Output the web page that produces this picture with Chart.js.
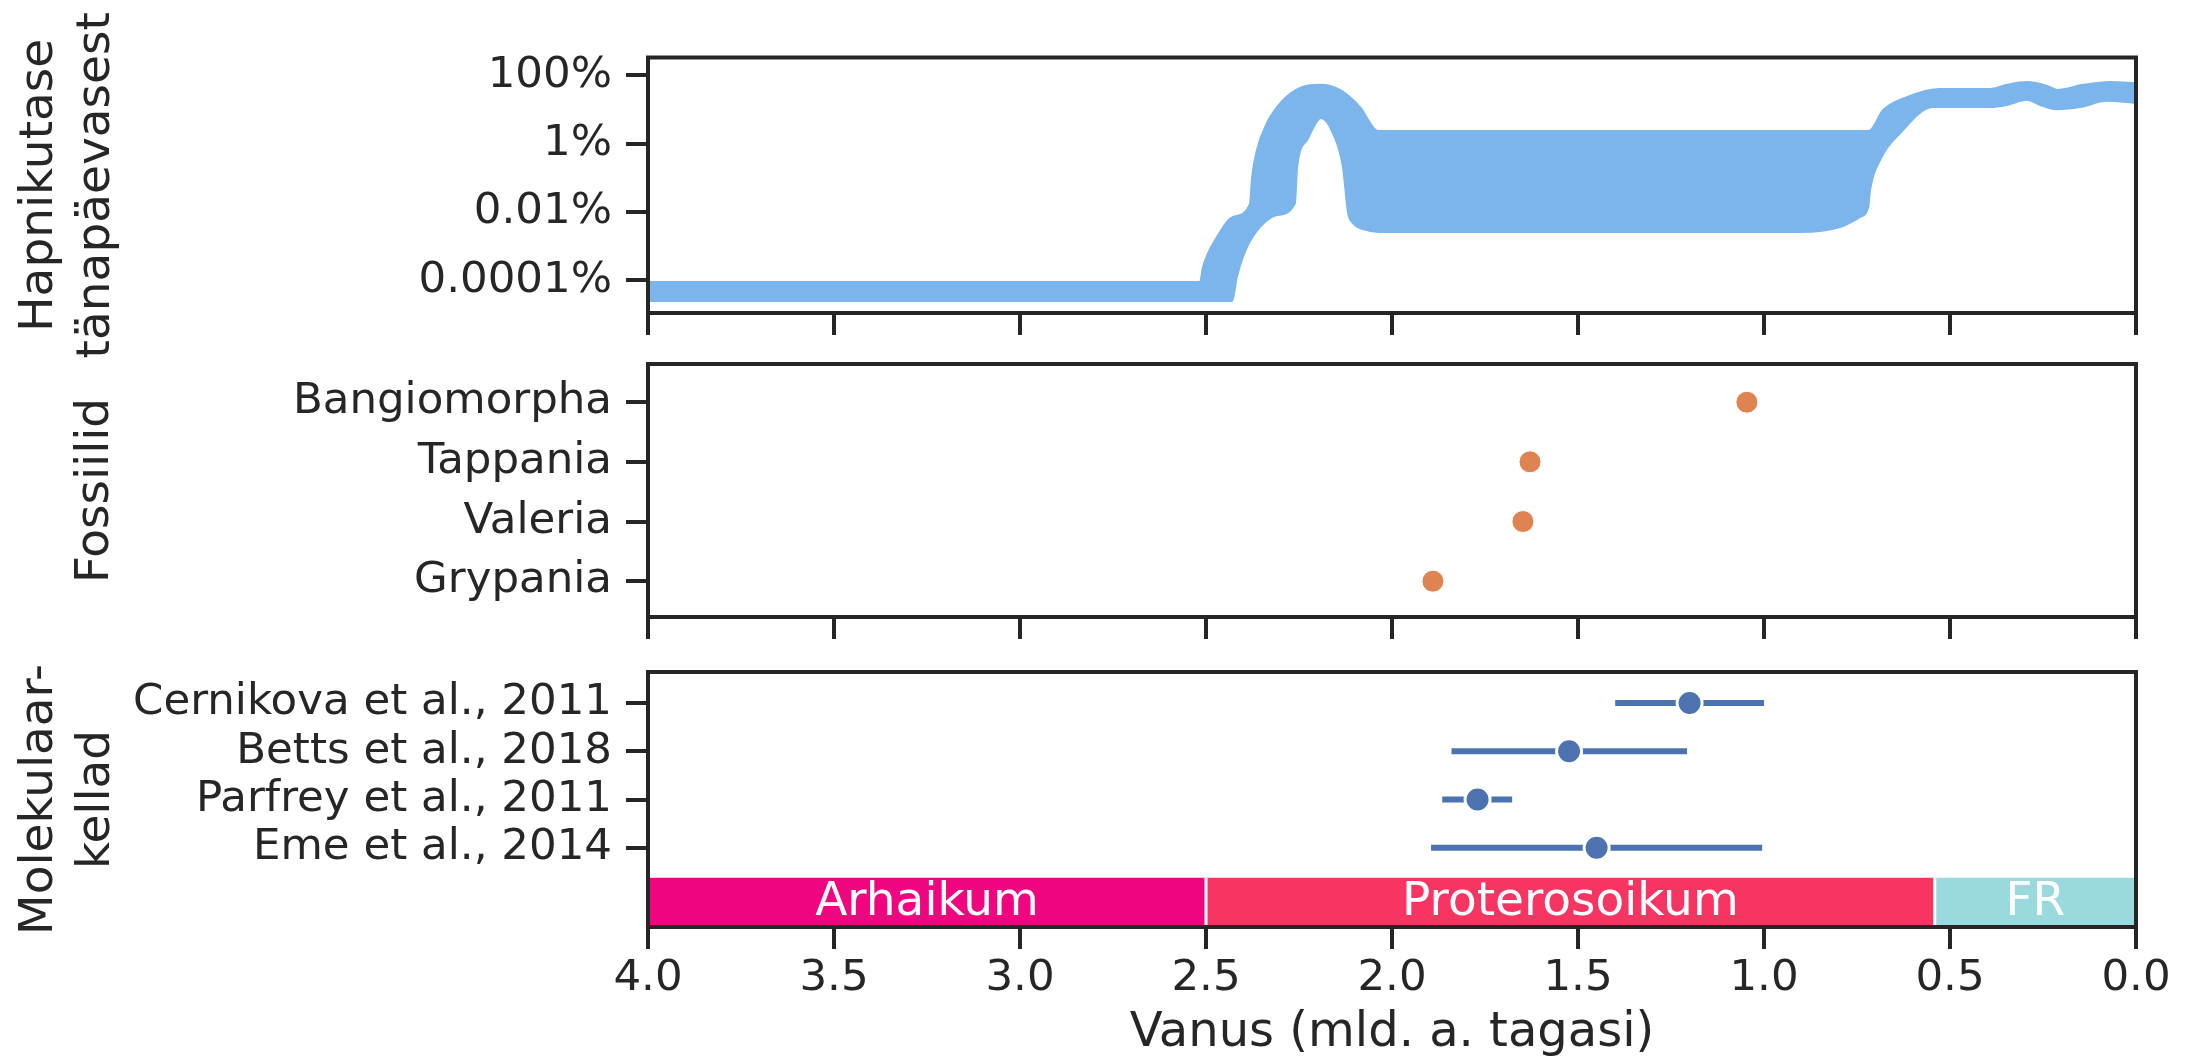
<!DOCTYPE html>
<html>
<head>
<meta charset="utf-8">
<script src="https://cdn.jsdelivr.net/npm/chart.js@4.4.1/dist/chart.umd.min.js"></script>
<style>
  body { margin: 0; background: #fff; }
  #wrap { position: relative; width: 2191px; height: 1059px; background: #fff; overflow: hidden; }
  canvas { position: absolute; left: 0; }
</style>
</head>
<body>
<div id="wrap">
  <canvas id="oxygenChart" width="2191" height="380" style="top:0px"></canvas>
  <canvas id="fossilChart" width="2191" height="310" style="top:340px"></canvas>
  <canvas id="clockChart" width="2191" height="409" style="top:650px"></canvas>
</div>
<script>
// ---- data (ages in billions of years ago) ----
const ageTicks = [4.0, 3.5, 3.0, 2.5, 2.0, 1.5, 1.0, 0.5, 0.0];

// oxygen level relative to today (%), upper and lower edge of the band
const oxyUpperAge = [4.0, 2.516, 2.508, 2.470, 2.427, 2.382, 2.376, 2.363, 2.336, 2.293, 2.247, 2.194, 2.140, 2.086, 2.038, 0.718, 0.680, 0.616, 0.527, 0.392, 0.347, 0.293, 0.239, 0.212, 0.142, 0.070, 0.0];
const oxyUpperPct = [8.9e-5, 8.9e-5, 2.45e-4, 1.86e-3, 7.1e-3, 0.017, 0.105, 0.65, 4.0, 18.6, 42.7, 52.5, 37.2, 11.7, 2.34, 2.34, 9.5, 22.9, 39.8, 39.8, 52.5, 63.1, 49.0, 37.2, 52.5, 63.1, 58.9];
const oxyLowerAge = [4.0, 2.430, 2.417, 2.390, 2.355, 2.309, 2.261, 2.255, 2.228, 2.191, 2.159, 2.132, 2.118, 2.105, 2.067, 2.024, 0.903, 0.796, 0.742, 0.720, 0.715, 0.688, 0.634, 0.546, 0.392, 0.347, 0.293, 0.258, 0.212, 0.151, 0.078, 0.0];
const oxyLowerPct = [2.45e-5, 2.45e-5, 1.26e-4, 9.3e-4, 3.6e-3, 8.1e-3, 0.018, 0.21, 1.29, 5.6, 2.04, 0.21, 9.3e-3, 4.8e-3, 2.95e-3, 2.57e-3, 2.57e-3, 3.6e-3, 7.1e-3, 0.0138, 0.0437, 0.33, 2.04, 11.7, 11.7, 13.5, 19.1, 13.5, 10.2, 11.7, 17.8, 15.5];
const oxyTicks = [1e-4, 1e-2, 1, 100];
const oxyTickLabels = ["0.0001%", "0.01%", "1%", "100%"];

const fossilNames = ["Bangiomorpha", "Tappania", "Valeria", "Grypania"];
const fossilAges = [1.046, 1.629, 1.648, 1.890];

const clockNames = ["Cernikova et al., 2011", "Betts et al., 2018", "Parfrey et al., 2011", "Eme et al., 2014"];
const clockMid = [1.20, 1.524, 1.77, 1.45];
const clockOld = [1.40, 1.84, 1.865, 1.895];
const clockYoung = [1.00, 1.207, 1.677, 1.005];

const eonNames = ["Arhaikum", "Proterosoikum", "FR"];
const eonStart = [4.0, 2.5, 0.541];
const eonEnd = [2.5, 0.541, 0.0];
const eonColors = ["#f0047f", "#f73563", "#9ad9dd"];

// ---- styling ----
const FONT = "DejaVu Sans";
const INK = "#262626";
const AXIS_W = 648;     // width reserved for y axis + title
const TICK_LEN = 22;

// frame around each plot area
const framePlugin = {
    id: "frame",
    afterDatasetsDraw(chart) {
        const { ctx, chartArea: a } = chart;
        ctx.save();
        ctx.strokeStyle = INK;
        ctx.lineWidth = 4;
        ctx.strokeRect(a.left, a.top, a.right - a.left, a.bottom - a.top);
        ctx.restore();
    }
};

// eon names written on the coloured bar
const eonLabelPlugin = {
    id: "eonLabels",
    afterDatasetsDraw(chart, args, opts) {
        const { ctx, scales } = chart;
        ctx.save();
        ctx.fillStyle = "#ffffff";
        ctx.font = "47px '" + FONT + "'";
        ctx.textAlign = "center";
        ctx.textBaseline = "middle";
        eonNames.forEach((name, i) => {
            const x = scales.x.getPixelForValue((eonStart[i] + eonEnd[i]) / 2);
            const y = scales.y.getPixelForValue(opts.y);
            ctx.fillText(name, x, y);
        });
        ctx.restore();
    }
};

function xAxis(showLabels, height) {
    return {
        type: "linear",
        reverse: true,
        min: 0,
        max: 4,
        border: { display: false },
        grid: {
            drawOnChartArea: false,
            drawTicks: true,
            tickLength: TICK_LEN,
            tickWidth: 4,
            tickColor: INK,
            lineWidth: 4,
            color: INK
        },
        afterBuildTicks: (s) => { s.ticks = ageTicks.map((v) => ({ value: v })); },
        ticks: {
            display: showLabels,
            padding: 4,
            color: INK,
            font: { family: FONT, size: 43.5 },
            callback: (v) => Number(v).toFixed(1)
        },
        title: showLabels ? {
            display: true,
            text: "Vanus (mld. a. tagasi)",
            color: INK,
            font: { family: FONT, size: 48, lineHeight: 1 },
            padding: { top: 0, bottom: 1 }
        } : { display: false },
        afterFit: (s) => {
            s.height = height;
            s.paddingLeft = 0;
            s.paddingRight = 0;
        }
    };
}

function yAxis(extra, titleText, titlePad) {
    return Object.assign({
        border: { display: false },
        grid: {
            drawOnChartArea: false,
            drawTicks: true,
            tickLength: TICK_LEN,
            tickWidth: 4,
            tickColor: INK,
            lineWidth: 4,
            color: INK
        },
        title: {
            display: true,
            text: titleText,
            color: INK,
            font: { family: FONT, size: 47, lineHeight: 1.2 },
            padding: { top: titlePad, bottom: 0 }
        },
        afterFit: (s) => {
            s.width = AXIS_W;
            s.paddingTop = 0;
            s.paddingBottom = 0;
        }
    }, extra);
}

function baseOptions(scales, paddingTop) {
    return {
        responsive: false,
        devicePixelRatio: 1,
        animation: false,
        layout: { padding: { left: 0, right: 55, top: paddingTop, bottom: 0 } },
        plugins: { legend: { display: false }, tooltip: { enabled: false } },
        scales: scales
    };
}

document.addEventListener("DOMContentLoaded", function () {
    Chart.defaults.font.family = FONT;
    Chart.defaults.color = INK;

    // ---- oxygen panel ----
    const upper = oxyUpperAge.map((a, i) => ({ x: a, y: oxyUpperPct[i] }));
    const lower = oxyLowerAge.map((a, i) => ({ x: a, y: oxyLowerPct[i] }));
    new Chart(document.getElementById("oxygenChart"), {
        type: "line",
        data: {
            datasets: [
                {
                    data: lower,
                    borderColor: "#7cb5ec",
                    borderWidth: 2,
                    pointRadius: 0,
                    cubicInterpolationMode: "monotone",
                    fill: false
                },
                {
                    data: upper,
                    borderColor: "#7cb5ec",
                    backgroundColor: "#7cb5ec",
                    borderWidth: 2,
                    pointRadius: 0,
                    cubicInterpolationMode: "monotone",
                    fill: "-1"
                }
            ]
        },
        options: baseOptions({
            x: xAxis(false, 67),
            y: yAxis({
                type: "logarithmic",
                min: 1.1e-5,
                max: 331,
                afterBuildTicks: (s) => { s.ticks = oxyTicks.map((v) => ({ value: v })); },
                ticks: {
                    padding: 14,
                    color: INK,
                    font: { family: FONT, size: 43.5 },
                    callback: (v, i) => oxyTickLabels[i]
                }
            }, ["Hapnikutase", "tänapäevasest"], 12)
        }, 57.5),
        plugins: [framePlugin]
    });

    // ---- fossil panel ----
    new Chart(document.getElementById("fossilChart"), {
        type: "line",
        data: {
            datasets: [{
                data: fossilAges.map((a, i) => ({ x: a, y: i })),
                showLine: false,
                pointRadius: 11,
                pointBorderWidth: 1,
                pointBorderColor: "#ffffff",
                pointBackgroundColor: "#dd8452"
            }]
        },
        options: baseOptions({
            x: xAxis(false, 33),
            y: yAxis({
                type: "linear",
                reverse: true,
                min: -0.64,
                max: 3.6,
                afterBuildTicks: (s) => { s.ticks = fossilNames.map((n, i) => ({ value: i })); },
                ticks: {
                    padding: 14,
                    color: INK,
                    font: { family: FONT, size: 43.5 },
                    callback: (v) => fossilNames[v]
                }
            }, "Fossiilid", 68)
        }, 24),
        plugins: [framePlugin]
    });

    // ---- molecular clock panel ----
    const barTop = 3.62;
    const barBottom = 4.64;
    const clockSets = [];
    clockSets.push({
        data: clockMid.map((a, i) => ({ x: a, y: i })),
        showLine: false,
        order: 0,
        pointRadius: 12.5,
        pointBorderWidth: 3,
        pointBorderColor: "#ffffff",
        pointBackgroundColor: "#4c72b0"
    });
    clockNames.forEach((n, i) => {
        clockSets.push({
            data: [{ x: clockOld[i], y: i }, { x: clockYoung[i], y: i }],
            order: 1,
            borderColor: "#4c72b0",
            borderWidth: 6,
            borderCapStyle: "butt",
            pointRadius: 0,
            fill: false
        });
    });
    eonNames.forEach((n, i) => {
        clockSets.push({
            data: [{ x: eonStart[i], y: barTop }, { x: eonEnd[i], y: barTop }],
            order: 3,
            borderWidth: 0,
            pointRadius: 0,
            backgroundColor: eonColors[i],
            fill: { value: barBottom }
        });
    });
    // white separators between eons
    [eonStart[1], eonStart[2]].forEach((a) => {
        clockSets.push({
            data: [{ x: a, y: barTop }, { x: a, y: barBottom }],
            order: 2,
            borderColor: "#ffffff",
            borderWidth: 3,
            pointRadius: 0,
            fill: false
        });
    });

    const clockOpts = baseOptions({
        x: xAxis(true, 132),
        y: yAxis({
            type: "linear",
            reverse: true,
            min: -0.64,
            max: barBottom,
            afterBuildTicks: (s) => { s.ticks = clockNames.map((n, i) => ({ value: i })); },
            ticks: {
                padding: 14,
                color: INK,
                font: { family: FONT, size: 43.5 },
                callback: (v) => clockNames[v]
            }
        }, ["Molekulaar-", "kellad"], 12)
    }, 22);
    clockOpts.plugins.eonLabels = { y: (barTop + barBottom) / 2 };

    new Chart(document.getElementById("clockChart"), {
        type: "line",
        data: { datasets: clockSets },
        options: clockOpts,
        plugins: [framePlugin, eonLabelPlugin]
    });
});
</script>
</body>
</html>
